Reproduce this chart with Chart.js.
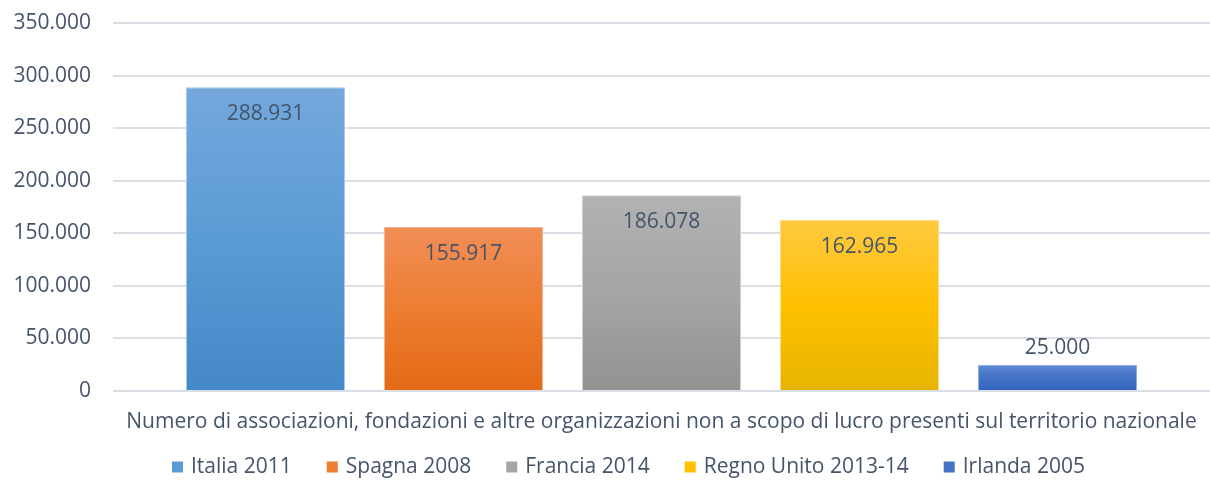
<!DOCTYPE html>
<html>
<head>
<meta charset="utf-8">
<script src="https://cdn.jsdelivr.net/npm/chart.js@4"></script>
<style>
  html, body { margin: 0; padding: 0; background: #fff; }
  #wrap { width: 1210px; height: 486px; }
</style>
</head>
<body>
<div id="wrap"><canvas id="orgChart"></canvas></div>
<script>
// dati
const categories = ['Numero di associazioni, fondazioni e altre organizzazioni non a scopo di lucro presenti sul territorio nazionale'];
const countries = ['Italia 2011', 'Spagna 2008', 'Francia 2014', 'Regno Unito 2013-14', 'Irlanda 2005'];
const values = [288931, 155917, 186078, 162965, 25000];
const yTicks = [0, 50000, 100000, 150000, 200000, 250000, 300000, 350000];

// colori (alto, centro, basso) per il gradiente
const colTop = ['#74a8dd', '#f18e57', '#b2b2b2', '#ffc941', '#5d8bd6'];
const colMid = ['#5b9bd5', '#ed7d31', '#a5a5a5', '#ffc000', '#4472c4'];
const colBot = ['#4488c7', '#e36a16', '#929292', '#e6b400', '#3463c0'];
const colEdge = ['#a9c8ea', '#f5b48c', '#cfcfcf', '#ffdc7a', '#8eaee3'];

const textColor = '#44546a';
const fontFam = '"Open Sans", sans-serif';
const fontSize = 21;

function fmt(n) {
    return String(n).replace(/\B(?=(\d{3})+(?!\d))/g, '.');
}

function barGradient(i) {
    return function(ctx) {
        const chart = ctx.chart;
        if (!chart.chartArea) return colMid[i];
        const y = chart.scales.y;
        const top = y.getPixelForValue(values[i]);
        const bot = y.getPixelForValue(0);
        const g = chart.ctx.createLinearGradient(0, top, 0, bot);
        g.addColorStop(0, colTop[i]);
        g.addColorStop(0.5, colMid[i]);
        g.addColorStop(1, colBot[i]);
        return g;
    };
}

// etichette valori sulle barre
const valueLabels = {
    id: 'valueLabels',
    afterDatasetsDraw(chart) {
        const c = chart.ctx;
        c.save();
        c.font = fontSize + 'px ' + fontFam;
        c.fillStyle = textColor;
        c.textAlign = 'center';
        c.textBaseline = 'middle';
        chart.data.datasets.forEach((ds, i) => {
            const bar = chart.getDatasetMeta(i).data[0];
            const h = bar.base - bar.y;
            const ty = h > 50 ? bar.y + 27 : bar.y - 17;
            c.fillText(fmt(ds.data[0]), bar.x, ty);
        });
        c.restore();
    }
};

// legenda in basso, stile Excel (quadratini piccoli, spaziatura larga)
const bottomLegend = {
    id: 'bottomLegend',
    afterDraw(chart) {
        const c = chart.ctx;
        c.save();
        c.font = fontSize + 'px ' + fontFam;
        c.textBaseline = 'middle';
        c.textAlign = 'left';
        const y = 467;
        let x = 172;
        countries.forEach((name, i) => {
            c.fillStyle = colMid[i];
            c.fillRect(x, y - 5.5, 11, 11);
            c.fillStyle = textColor;
            c.fillText(name, x + 19, y);
            x += 19 + c.measureText(name).width + 35;
        });
        c.restore();
    }
};

const datasets = countries.map((name, i) => ({
    label: name,
    data: [values[i]],
    backgroundColor: barGradient(i),
    borderColor: colEdge[i],
    borderWidth: 1,
    categoryPercentage: 0.9025,
    barPercentage: 0.803
}));

new Chart(document.getElementById('orgChart'), {
    type: 'bar',
    data: { labels: categories, datasets: datasets },
    options: {
        responsive: true,
        maintainAspectRatio: false,
        animation: false,
        layout: { padding: { top: 23, right: 0, left: 12, bottom: 52 } },
        plugins: {
            legend: { display: false },
            tooltip: { enabled: false }
        },
        scales: {
            x: {
                grid: { display: false, drawTicks: false },
                border: { display: false },
                ticks: {
                    color: textColor,
                    font: { family: fontFam, size: fontSize },
                    padding: 18,
                    maxRotation: 0,
                    minRotation: 0,
                    autoSkip: false
                },
                // l'etichetta lunga non deve restringere l'area del grafico
                afterFit(scale) {
                    scale.paddingLeft = 0;
                    scale.paddingRight = 0;
                    scale.height = 43;
                }
            },
            y: {
                min: 0,
                max: 350000,
                afterBuildTicks(axis) {
                    axis.ticks = yTicks.map(v => ({ value: v }));
                },
                grid: { color: '#dadee5', lineWidth: 2, drawTicks: false },
                border: { display: false },
                ticks: {
                    color: textColor,
                    font: { family: fontFam, size: fontSize },
                    padding: 22,
                    callback: v => fmt(v)
                },
                afterFit(scale) {
                    scale.width = 101;
                    scale.paddingTop = 0;
                    scale.paddingBottom = 0;
                }
            }
        }
    },
    plugins: [valueLabels, bottomLegend]
});
</script>
</body>
</html>
